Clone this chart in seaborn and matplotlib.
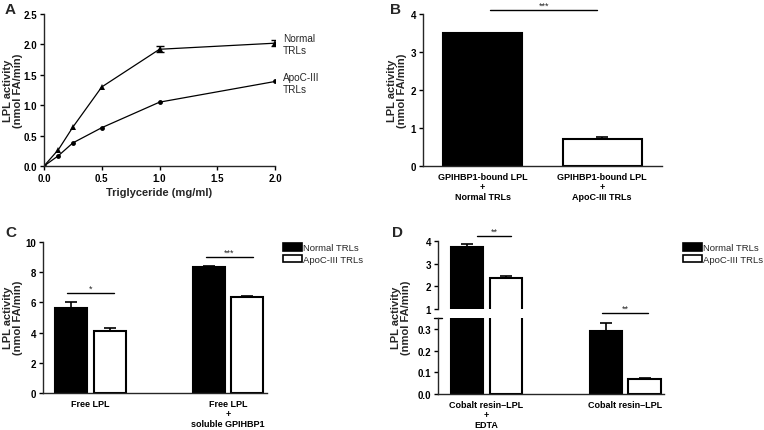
import numpy as np
import pandas as pd
import matplotlib
matplotlib.use('Agg')
import matplotlib.pyplot as plt
import seaborn as sns
from matplotlib.patches import Patch

# --- DATA ---
TG_CONC = [0, 0.125, 0.25, 0.5, 1.0, 2.0]
A_NORMAL = [0, 0.27, 0.64, 1.30, 1.92, 2.02]
A_NORMAL_ERR = [0, 0, 0, 0, 0.05, 0.05]
A_APOC = [0, 0.17, 0.38, 0.63, 1.05, 1.39]
A_APOC_ERR = [0, 0, 0, 0, 0, 0]

B_LABELS = ["GPIHBP1-bound LPL\n+\nNormal TRLs", "GPIHBP1-bound LPL\n+\nApoC-III TRLs"]
B_VALUES = [3.50, 0.72]
B_ERR = [0.01, 0.04]

TRL_TYPES = ["Normal TRLs", "ApoC-III TRLs"]

C_GROUPS = ["Free LPL", "Free LPL\n+\nsoluble GPIHBP1"]
C_NORMAL = [5.65, 8.35]
C_NORMAL_ERR = [0.40, 0.08]
C_APOC = [4.10, 6.35]
C_APOC_ERR = [0.20, 0.05]

D_GROUPS = ["Cobalt resin\u2013LPL\n+\nEDTA", "Cobalt resin\u2013LPL"]
D_NORMAL = [3.75, 0.29]
D_NORMAL_ERR = [0.10, 0.035]
D_APOC = [2.35, 0.07]
D_APOC_ERR = [0.12, 0.003]

YLABEL = "LPL activity\n(nmol FA/min)"

# --- STYLE ---
W, H = 764, 431
TICK_FS = 7
LABEL_FS = 8
YLABEL_FS = 8
TEXT_FS = 6.8

sns.set_style("ticks")
plt.rcParams['font.family'] = ['Liberation Sans', 'DejaVu Sans']
plt.rcParams['axes.linewidth'] = 1.0
plt.rcParams['xtick.major.width'] = 1.0
plt.rcParams['ytick.major.width'] = 1.0
plt.rcParams['xtick.major.size'] = 3
plt.rcParams['ytick.major.size'] = 3


def rect(l, t, r, b):
    return [l / W, 1 - b / H, (r - l) / W, (b - t) / H]


def style_axis(ax, xticks=True):
    sns.despine(ax=ax)
    ax.tick_params(labelsize=TICK_FS, pad=2, colors='black')
    if not xticks:
        ax.tick_params(axis='x', length=0, pad=4)
        for lab in ax.get_xticklabels():
            lab.set_fontsize(6.5)
    for lab in ax.get_xticklabels() + ax.get_yticklabels():
        lab.set_fontweight('bold')


def ylabel(x_px, y_px):
    fig.text(x_px / W, 1 - y_px / H, YLABEL, rotation=90, ha='center', va='center',
             fontsize=YLABEL_FS, fontweight='bold', linespacing=1.0)


def sig(ax, x0, x1, y, stars):
    ax.plot([x0, x1], [y, y], color='black', lw=1.0, clip_on=False)
    ax.text((x0 + x1) / 2, y, stars, ha='center', va='bottom', fontsize=6.5, clip_on=False)


def grouped_bars(ax, groups, normal, apoc, nerr, aerr):
    df = pd.DataFrame({
        "group": groups * 2,
        "trl": [TRL_TYPES[0]] * len(groups) + [TRL_TYPES[1]] * len(groups),
        "value": normal + apoc,
    })
    sns.barplot(data=df, x="group", y="value", hue="trl", hue_order=TRL_TYPES, order=groups,
                palette=["black", "white"], edgecolor="black", linewidth=1.5,
                width=0.56, gap=0.17, errorbar=None, legend=False, ax=ax)
    for cont, err in zip(ax.containers, [nerr, aerr]):
        xs = [p.get_x() + p.get_width() / 2 for p in cont]
        ys = [p.get_height() for p in cont]
        ax.errorbar(xs, ys, yerr=[np.zeros(len(err)), err], fmt='none', ecolor='black',
                    elinewidth=1.2, capsize=4.5, capthick=1.2, zorder=5)
    ax.set_xlabel("")
    ax.set_ylabel("")


def trl_legend(x_px, y_px):
    handles = [Patch(facecolor='black', edgecolor='black', lw=1.2),
               Patch(facecolor='white', edgecolor='black', lw=1.2)]
    fig.legend(handles, TRL_TYPES, loc='upper left', bbox_to_anchor=(x_px / W, 1 - y_px / H),
               frameon=False, fontsize=TEXT_FS, handlelength=2.0, handleheight=0.85,
               handletextpad=0.1, labelspacing=0.3, borderpad=0, borderaxespad=0)


fig = plt.figure(figsize=(W / 100, H / 100), dpi=100)

# --- A ---
axA = fig.add_axes(rect(44, 15, 275, 167))
sns.lineplot(x=TG_CONC, y=A_NORMAL, marker='^', color='black', lw=0.9, markersize=4,
             markeredgewidth=0, ax=axA)
sns.lineplot(x=TG_CONC, y=A_APOC, marker='o', color='black', lw=0.9, markersize=3.5,
             markeredgewidth=0, ax=axA)
for ys, errs in [(A_NORMAL, A_NORMAL_ERR), (A_APOC, A_APOC_ERR)]:
    keep = [i for i, e in enumerate(errs) if e > 0]
    if keep:
        axA.errorbar([TG_CONC[i] for i in keep], [ys[i] for i in keep],
                     yerr=[errs[i] for i in keep], fmt='none', ecolor='black',
                     elinewidth=1, capsize=3, capthick=1)
axA.set_xlim(0, 2.0)
axA.set_ylim(0, 2.5)
axA.set_xticks(np.arange(0, 2.01, 0.5))
axA.set_yticks(np.arange(0, 2.51, 0.5))
axA.xaxis.set_major_formatter(matplotlib.ticker.FormatStrFormatter('%.1f'))
axA.yaxis.set_major_formatter(matplotlib.ticker.FormatStrFormatter('%.1f'))
style_axis(axA)
axA.set_xlabel("Triglyceride (mg/ml)", fontsize=LABEL_FS, fontweight='bold', labelpad=3)
ylabel(13, 91)
fig.text(283 / W, 1 - 34 / H, "Normal\nTRLs", fontsize=7.2, va='top', ha='left')
fig.text(283 / W, 1 - 73 / H, "ApoC-III\nTRLs", fontsize=7.2, va='top', ha='left')

# --- B ---
axB = fig.add_axes(rect(423, 15, 662, 167))
dfB = pd.DataFrame({"cond": B_LABELS, "value": B_VALUES})
sns.barplot(data=dfB, x="cond", y="value", hue="cond", palette=["black", "white"],
            edgecolor="black", linewidth=1.5, width=0.66, errorbar=None, legend=False, ax=axB)
barsB = axB.patches
axB.errorbar([p.get_x() + p.get_width() / 2 for p in barsB], [p.get_height() for p in barsB],
             yerr=[np.zeros(2), B_ERR], fmt='none', ecolor='black', elinewidth=1.2,
             capsize=4.5, capthick=1.2, zorder=5)
axB.set_xlim(-0.5, 1.5)
axB.set_ylim(0, 4)
axB.set_yticks([0, 1, 2, 3, 4])
axB.set_xlabel("")
axB.set_ylabel("")
style_axis(axB, xticks=False)
ylabel(397, 91)
sig(axB, 0.06, 0.96, 4.1, "***")

# --- C ---
axC = fig.add_axes(rect(43, 243, 267, 394))
grouped_bars(axC, C_GROUPS, C_NORMAL, C_APOC, C_NORMAL_ERR, C_APOC_ERR)
axC.set_xlim(-0.345, 1.284)
axC.set_ylim(0, 10)
axC.set_yticks([0, 2, 4, 6, 8, 10])
style_axis(axC, xticks=False)
ylabel(13, 318)
sig(axC, -0.17, 0.17, 6.62, "*")
sig(axC, 0.84, 1.18, 9.0, "***")
trl_legend(283, 244)

# --- D (broken axis) ---
axD1 = fig.add_axes(rect(438, 242, 664, 310))
axD2 = fig.add_axes(rect(438, 319, 664, 395))
for ax in (axD1, axD2):
    grouped_bars(ax, D_GROUPS, D_NORMAL, D_APOC, D_NORMAL_ERR, D_APOC_ERR)
    ax.set_xlim(-0.35, 1.28)
axD1.set_ylim(1, 4)
axD1.set_yticks([1, 2, 3, 4])
axD2.set_ylim(0, 0.35)
axD2.set_yticks([0, 0.1, 0.2, 0.3])
axD2.yaxis.set_major_formatter(matplotlib.ticker.FormatStrFormatter('%.1f'))
style_axis(axD1)
style_axis(axD2, xticks=False)
axD1.spines['bottom'].set_visible(False)
axD1.tick_params(axis='x', bottom=False, labelbottom=False)
axD2.plot([-0.018, 0.018], [1, 1], transform=axD2.transAxes, color='black', lw=1.0, clip_on=False)
ylabel(401, 318)
sig(axD1, -0.068, 0.177, 4.22, "**")
sig(axD2, 0.834, 1.166, 0.373, "**")
trl_legend(683, 244)

# panel letters
for letter, (x, y) in {"A": (5, 3), "B": (390, 3), "C": (5, 226), "D": (392, 226)}.items():
    fig.text(x / W, 1 - y / H, letter, fontsize=11, fontweight='bold', va='top', ha='left')

fig.savefig("out.png", dpi=100)
